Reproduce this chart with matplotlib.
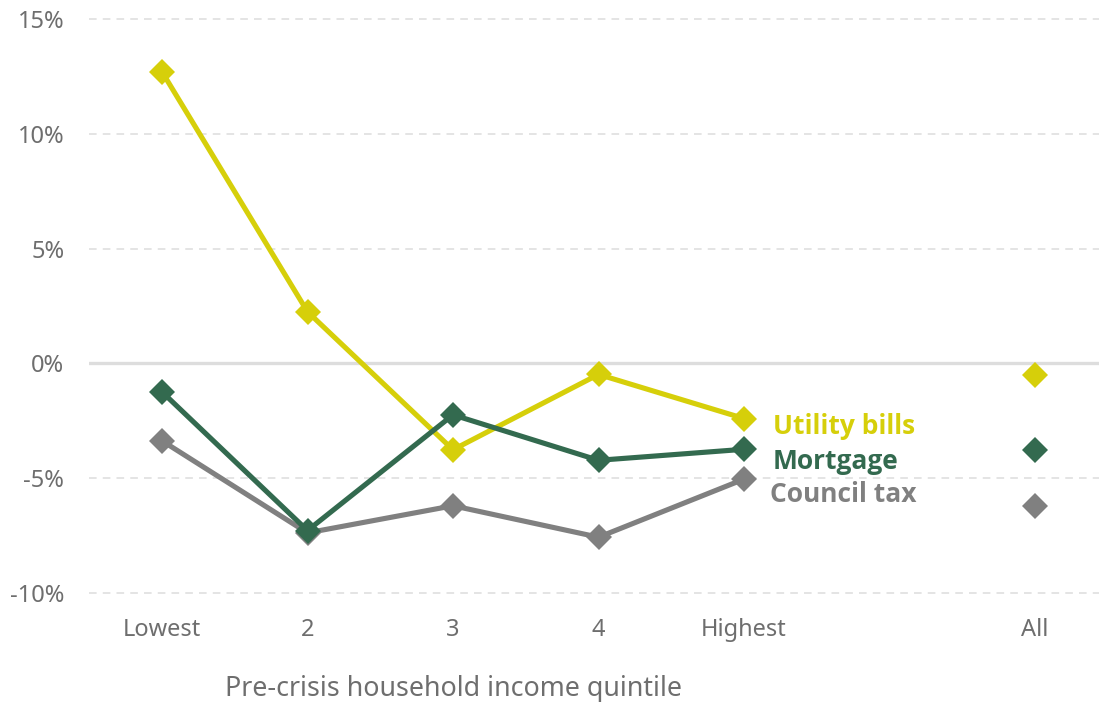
import matplotlib
matplotlib.use("Agg")
import matplotlib.pyplot as plt

plt.rcParams['font.family'] = ['Noto Sans', 'DejaVu Sans']

categories = ["Lowest", "2", "3", "4", "Highest", "All"]
positions = [0, 1, 2, 3, 4, 6]

utility = [12.7, 2.25, -3.76, -0.48, -2.4, -0.52]
mortgage = [-1.24, -7.28, -2.24, -4.22, -3.74, -3.78]
council = [-3.37, -7.38, -6.2, -7.57, -5.04, -6.22]

series = [
    ("Council tax", council, "#808080"),
    ("Utility bills", utility, "#D6CF0A"),
    ("Mortgage", mortgage, "#336A4F"),
]

fig = plt.figure(figsize=(10.99, 7.02), dpi=100)
ax = fig.add_axes([0.0812, 0.1389, 0.9268, 0.8504])
ax.set_xlim(-0.5, 6.5)
ax.set_ylim(-10.5, 15.5)

yt = [-10, -5, 0, 5, 10, 15]
for v in yt:
    if v == 0:
        ax.axhline(0, color="#DDDDDD", lw=2.4, zorder=1)
    else:
        ax.axhline(v, color="#DDDDDD", lw=1.1, ls=(0, (5, 4)), zorder=1)

label_y = {"Utility bills": -2.75, "Mortgage": -4.28, "Council tax": -5.7}
for name, vals, col in series:
    ax.plot(positions[:5], vals[:5], color=col, lw=3.7, marker="D", ms=13.5,
            mew=0, zorder=3, solid_capstyle="butt")
    ax.plot(positions[5:], vals[5:], color=col, lw=0, marker="D", ms=13.5,
            mew=0, zorder=3)
    x0 = 4.2 if name != "Council tax" else 4.18
    ax.text(x0, label_y[name], name, color=col, fontsize=19, fontweight="bold",
            family=["Open Sans", "DejaVu Sans"], va="center", ha="left")

ax.set_yticks(yt)
ax.set_yticklabels([f"{v}%" for v in yt])
ax.set_xticks(positions)
ax.set_xticklabels(categories)
ax.tick_params(axis="both", length=0, labelsize=17, labelcolor="#6E6E6E")
ax.tick_params(axis="y", pad=18)
ax.tick_params(axis="x", pad=10)
for s in ax.spines.values():
    s.set_visible(False)

ax.text(2, -14.2, "Pre-crisis household income quintile", ha="center",
        va="center", fontsize=19.3, color="#6E6E6E")

fig.savefig("out.png", dpi=100)
